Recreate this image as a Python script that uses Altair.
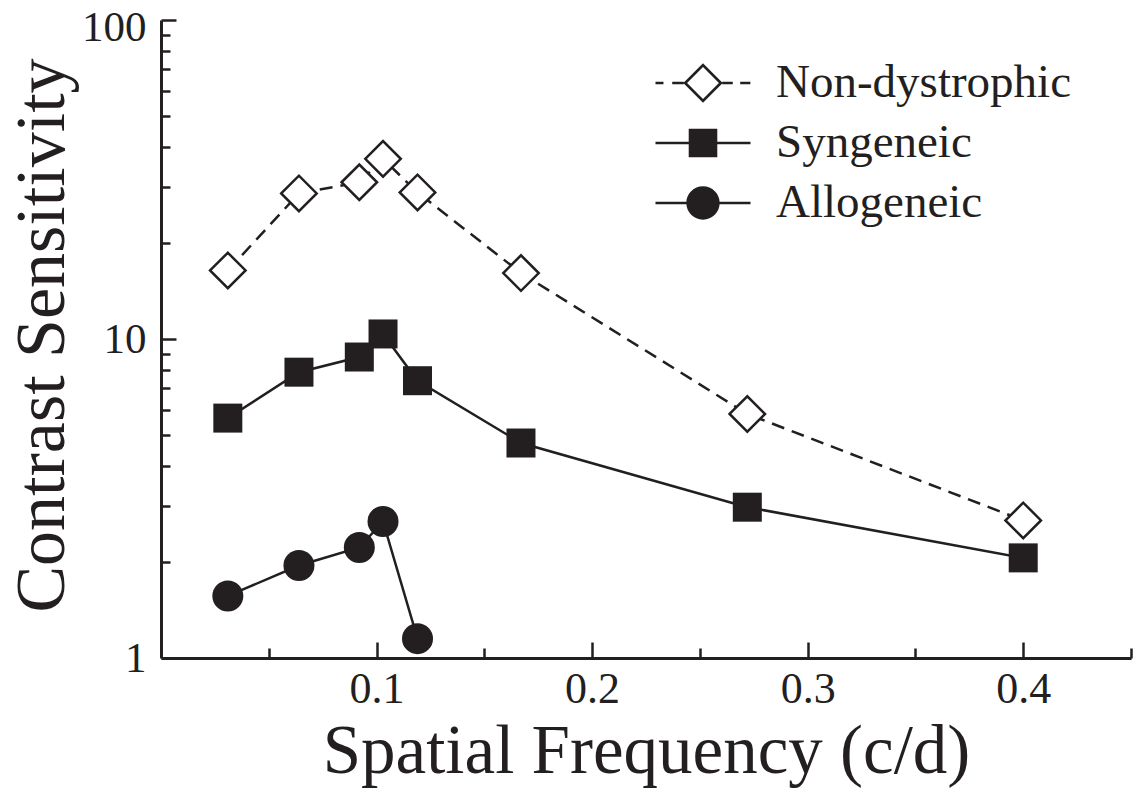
import altair as alt
import pandas as pd

# ---------------- data ----------------
series_names = ["Non-dystrophic", "Syngeneic", "Allogeneic"]
freq = [0.031, 0.064, 0.092, 0.103, 0.119, 0.167, 0.272, 0.400]
non_dystrophic = [16.4, 28.6, 31.0, 36.7, 28.8, 16.1, 5.82, 2.70]
syngeneic = [5.65, 7.87, 8.78, 10.37, 7.40, 4.72, 2.97, 2.06]
allo_freq = [0.031, 0.064, 0.092, 0.103, 0.119]
allogeneic = [1.565, 1.95, 2.22, 2.68, 1.15]

x_label_values = [0.1, 0.2, 0.3, 0.4]
x_tick_values = [0.05, 0.1, 0.15, 0.2, 0.25, 0.3, 0.35, 0.4, 0.45]
y_label_values = [1, 10, 100]
y_tick_values = [1, 2, 3, 4, 5, 6, 7, 8, 9, 10, 20, 30, 40, 50, 60, 70, 80, 90, 100]

rows = []
for f, v in zip(freq, non_dystrophic):
    rows.append({"freq": f, "cs": v, "series": "Non-dystrophic"})
for f, v in zip(freq, syngeneic):
    rows.append({"freq": f, "cs": v, "series": "Syngeneic"})
for f, v in zip(allo_freq, allogeneic):
    rows.append({"freq": f, "cs": v, "series": "Allogeneic"})
df = pd.DataFrame(rows)

INK = "#231f20"
FONT = "Liberation Serif"
W, H = 970, 638

# legend symbols drawn as filled shapes (line segments are thin rectangles)
legend_paths = [
    "M-1.284,-0.034H-1.068V0.034H-1.284Z"
    "M-0.832,-0.034H-0.52V0.034H-0.832Z"
    "M0.52,-0.034H0.805V0.034H0.52Z"
    "M1.005,-0.034H1.28V0.034H1.005Z"
    "M0,-0.532L0.532,0L0,0.532L-0.532,0Z"
    "M0,-0.43L-0.43,0L0,0.43L0.43,0Z",
    "M-1.284,-0.034H1.284V0.034H-1.284Z"
    "M-0.386,-0.386H0.386V0.386H-0.386Z",
    "M-1.284,-0.034H1.284V0.034H-1.284Z"
    "M0.451,0A0.451,0.451,0,1,1,-0.451,0A0.451,0.451,0,1,1,0.451,0Z",
]

x_scale = alt.Scale(domain=[0, 0.45], nice=False, zero=False)
y_scale = alt.Scale(type="log", domain=[1, 100], nice=False)

x_tick_cond = {
    "condition": {"test": "abs(datum.value * 10 - round(datum.value * 10)) < 0.001", "value": 16},
    "value": 10,
}
y_tick_cond = {
    "condition": {"test": "datum.value == 1 || datum.value == 10 || datum.value == 100", "value": 15},
    "value": 9,
}
y_label_shift = {"condition": {"test": "datum.value == 100", "value": 7}, "value": 0}


def build(label_offset):
    x_main = alt.X(
        "freq:Q",
        scale=x_scale,
        axis=alt.Axis(
            orient="bottom",
            values=x_label_values,
            format=".1f",
            ticks=False,
            tickSize=0,
            grid=False,
            domain=True,
            domainColor=INK,
            domainWidth=3,
            labelFont=FONT,
            labelFontSize=44,
            labelColor=INK,
            labelPadding=9,
            labelBaseline="top",
            labelFlush=False,
            labelOverlap=False,
            title="Spatial Frequency (c/d)",
            titleFont=FONT,
            titleFontSize=69,
            titleFontWeight="normal",
            titleColor=INK,
            titleBaseline="alphabetic",
            titleY=114,
        ),
    )
    y_main = alt.Y(
        "cs:Q",
        scale=y_scale,
        axis=alt.Axis(
            orient="left",
            values=y_label_values,
            format="d",
            ticks=False,
            tickSize=0,
            grid=False,
            domain=True,
            domainColor=INK,
            domainWidth=3,
            labelFont=FONT,
            labelFontSize=43,
            labelColor=INK,
            labelPadding=15,
            labelBaseline="middle",
            labelOffset=label_offset,
            labelFlush=False,
            labelOverlap=False,
            title="Contrast Sensitivity",
            titleFont=FONT,
            titleFontSize=70,
            titleFontWeight="normal",
            titleColor=INK,
            titleBaseline="alphabetic",
            titleAngle=270,
            titleX=-98,
            titleY=315,
        ),
    )

    base = alt.Chart(df)

    def sub(name):
        return base.transform_filter(alt.datum.series == name)

    line_nd = sub("Non-dystrophic").mark_line(color=INK, strokeWidth=2.5, strokeDash=[13, 8]).encode(x=x_main, y=y_main)
    line_syn = sub("Syngeneic").mark_line(color=INK, strokeWidth=2.5).encode(x=x_main, y=y_main)
    line_allo = sub("Allogeneic").mark_line(color=INK, strokeWidth=2.5).encode(x=x_main, y=y_main)

    pt_nd = sub("Non-dystrophic").mark_point(
        shape="diamond", filled=True, fill="white", stroke=INK, strokeWidth=2.5, size=1260, opacity=1
    ).encode(x=x_main, y=y_main)
    pt_syn = sub("Syngeneic").mark_point(
        shape="square", filled=True, fill=INK, size=841, opacity=1
    ).encode(x=x_main, y=y_main)
    pt_allo = sub("Allogeneic").mark_point(
        shape="circle", filled=True, fill=INK, size=961, opacity=1
    ).encode(x=x_main, y=y_main)

    main = alt.layer(line_nd, line_syn, line_allo, pt_nd, pt_syn, pt_allo)

    # invisible layer: carries the inward ticks and the legend
    guide_layer = base.mark_point(filled=True, fill=INK, opacity=0).encode(
        x=alt.X(
            "freq:Q",
            scale=x_scale,
            axis=alt.Axis(
                orient="top",
                offset=-H,
                values=x_tick_values,
                labels=False,
                domain=False,
                grid=False,
                ticks=True,
                tickColor=INK,
                tickWidth=2.5,
                tickSize=x_tick_cond,
                title=None,
            ),
        ),
        y=alt.Y(
            "cs:Q",
            scale=y_scale,
            axis=alt.Axis(
                orient="right",
                offset=-W,
                values=y_tick_values,
                labels=False,
                domain=False,
                grid=False,
                ticks=True,
                tickColor=INK,
                tickWidth=2.5,
                tickSize=y_tick_cond,
                title=None,
            ),
        ),
        shape=alt.Shape(
            "series:N",
            scale=alt.Scale(domain=series_names, range=legend_paths),
            legend=alt.Legend(
                title=None,
                orient="none",
                legendX=505,
                legendY=26,
                padding=0,
                symbolSize=5476,
                symbolStrokeWidth=0,
                symbolFillColor=INK,
                symbolOpacity=1,
                labelFont=FONT,
                labelFontSize=47,
                labelColor=INK,
                labelOffset=36,
                labelLimit=0,
                rowPadding=0,
            ),
        ),
    )

    return (
        alt.layer(main, guide_layer)
        .resolve_axis(x="independent", y="independent")
        .properties(
            width=W,
            height=H,
            autosize=alt.AutoSizeParams(type="none"),
            padding={"left": 161, "top": 20, "right": 3, "bottom": 137},
            background="white",
        )
        .configure_view(strokeWidth=0)
    )


chart = None
for lo in (y_label_shift, 0):
    try:
        c = build(lo)
        c.to_dict()
        chart = c
        break
    except Exception:
        chart = None

chart.save("out.html", embed_options={"renderer": "svg", "actions": False})
